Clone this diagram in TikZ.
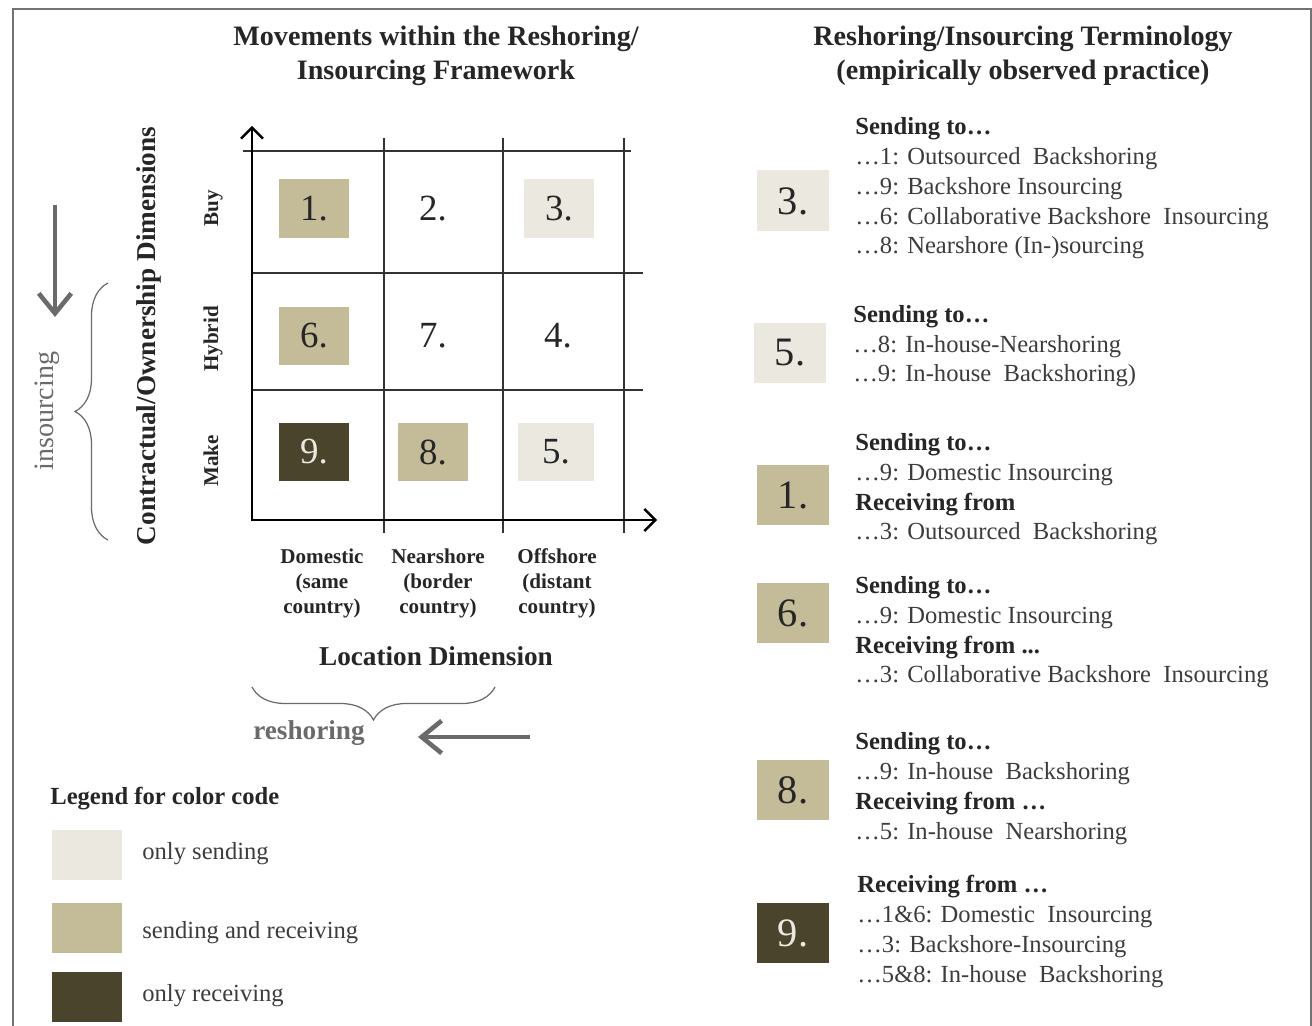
\documentclass[tikz,border=0pt]{standalone}
\usepackage{fontspec}
\setmainfont{Liberation Serif}
\usetikzlibrary{arrows.meta,positioning,decorations.pathreplacing}
\definecolor{onlysend}{HTML}{EAE8DF}
\definecolor{sendrec}{HTML}{C4BC98}
\definecolor{onlyrec}{HTML}{4A442D}
\definecolor{inktext}{HTML}{262626}
\definecolor{softtext}{HTML}{3C3C3C}
\definecolor{movegray}{HTML}{6A6A6A}
\newcommand{\termhead}[1]{\textcolor{inktext}{\bfseries #1}}
\tikzset{
  framed/.style={draw=black!55,line width=1.3pt},
  cell/.style={minimum width=1.42cm,minimum height=1.18cm,inner sep=0pt,font=\fontsize{21}{21}\selectfont,text=inktext},
  tagbox/.style={cell,minimum width=1.44cm,minimum height=1.22cm,font=\fontsize{23}{23}\selectfont},
  headline/.style={font=\fontsize{16}{19.8}\selectfont\bfseries,align=center,text=inktext,inner sep=0pt},
  rowlab/.style={rotate=90,anchor=base,font=\fontsize{12}{14}\selectfont\bfseries,text=inktext,inner sep=0pt},
  collab/.style={anchor=base,align=center,font=\fontsize{12}{14.4}\selectfont\bfseries,text=inktext,inner sep=0pt},
  termtext/.style={anchor=base west,align=left,font=\fontsize{14}{17}\selectfont,text=softtext,inner sep=0pt},
  legendtext/.style={anchor=base west,font=\fontsize{14}{17}\selectfont,text=softtext,inner sep=0pt},
  swatch/.style={minimum width=1.42cm,minimum height=1.0cm,inner sep=0pt},
  movearrow/.style={draw=movegray,line width=2.6pt,-{Straight Barb[length=4mm,width=6.5mm]}},
  gridline/.style={draw=black!80,line width=0.6pt},
  axis/.style={draw=black,line width=1.4pt,{Straight Barb[length=2.2mm,width=4.4mm]}-{Straight Barb[length=2.2mm,width=4.4mm]}},
  bracket/.style={draw=movegray,line width=0.7pt,decorate,decoration={brace,amplitude=0.66cm}}
}
\begin{document}
\begin{tikzpicture}[x=0.02cm,y=-0.02cm]
\useasboundingbox (0,0) rectangle (1312,1026);
% frame
\draw[framed] (13,1026) -- (13,9) -- (1311,9) -- (1311,1026);
% (multi-line nodes sit on their last baseline)
\node[headline,anchor=base] (lefttitle) at (436,80) {Movements within\ the Reshoring/\\Insourcing Framework};
\node[headline,anchor=base] (righttitle) at (1023,80) {Reshoring/Insourcing Terminology\\(empirically\ observed practice)};
% grid
\coordinate (origin) at (252,520);
\coordinate (ytip) at (252,126);
\coordinate (xtip) at (657,520);
\draw[gridline] (243,151) -- (631,151);
\draw[gridline] (252,273) -- (643,273);
\draw[gridline] (252,390) -- (643,390);
\foreach \x in {384,503,624} \draw[gridline] (\x,138) -- (\x,533);
\draw[axis] (ytip) -- (origin) -- (xtip);
%
\node[cell,fill=sendrec] (c1) at (314,209) {1.};
\node[cell] (c2) at (433,209) {2.};
\node[cell,fill=onlysend] (c3) at (559,209) {3.};
\node[cell,fill=sendrec] (c6) at (314,336) {6.};
\node[cell] (c7) at (433,336) {7.};
\node[cell] (c4) at (558,336) {4.};
\node[cell,fill=onlyrec,text=onlysend] (c9) at (314,452) {9.};
\node[cell,fill=sendrec] (c8) at (433,452) {8.};
\node[cell,fill=onlysend,minimum width=1.54cm] (c5) at (556,452) {5.};
%
\node[rowlab] (buy) at (218,208) {Buy};
\node[rowlab] (hybrid) at (218,339) {Hybrid};
\node[rowlab] (make) at (218,461) {Make};
\node[rowlab,font=\fontsize{15.5}{18}\selectfont\bfseries] (ownership) at (155,336) {Contractual/Ownership Dimensions};
\node[rowlab,font=\fontsize{16}{18}\selectfont,text=movegray] (insourcing) at (53,411) {insourcing};
\draw[bracket] (108,540) -- (108,283);
\coordinate (insA) at (55,205);
\coordinate (insB) at (55,317);
\draw[movearrow] (insA) -- (insB);
%
\node[collab] (domestic) at (322,614) {Domestic\\(same\\country)};
\node[collab] (nearshore) at (438,614) {Nearshore\\(border\\country)};
\node[collab] (offshore) at (557,614) {Offshore\\(distant\\country)};
\node[anchor=base,font=\fontsize{15.5}{18}\selectfont\bfseries,text=inktext,inner sep=0pt] (location) at (436,666) {Location Dimension};
\draw[bracket] (495,687) -- (252,687);
\node[anchor=base,font=\fontsize{15.5}{18}\selectfont\bfseries,text=movegray,inner sep=0pt] (reshoring) at (309,740) {reshoring};
\coordinate (resA) at (530,737);
\coordinate (resB) at (418,737);
\draw[movearrow] (resA) -- (resB);
% legend
\node[anchor=base west,font=\fontsize{14}{17}\selectfont\bfseries,text=inktext,inner sep=0pt] (legendtitle) at (50,805) {Legend for color code};
\node[swatch,fill=onlysend] (sw1) at (87,855) {};
\node[swatch,fill=sendrec] (sw2) at (87,928) {};
\node[swatch,fill=onlyrec] (sw3) at (87,997) {};
\node[legendtext] (lt1) at (142,859) {only sending};
\node[legendtext] (lt2) at (142,938) {sending and receiving};
\node[legendtext] (lt3) at (142,1001) {only receiving};
% terminology
\node[tagbox,fill=onlysend] (r3) at (793,201) {3.};
\node[termtext] (t3) at (855,254) {\termhead{Sending to…}\\…1: Outsourced\ \ Backshoring\\…9: Backshore Insourcing\\…6: Collaborative Backshore\ \ Insourcing\\…8: Nearshore (In-)sourcing};
\node[tagbox,fill=onlysend] (r5) at (790,353) {5.};
\node[termtext] (t5) at (853,382) {\termhead{Sending to…}\\…8: In-house-Nearshoring\\…9: In-house\ \ Backshoring)};
\node[tagbox,fill=sendrec] (r1) at (793,495) {1.};
\node[termtext] (t1) at (855,540) {\termhead{Sending to…}\\…9: Domestic Insourcing\\\termhead{Receiving from}\\…3: Outsourced\ \ Backshoring};
\node[tagbox,fill=sendrec] (r6) at (793,613) {6.};
\node[termtext] (t6) at (855,683) {\termhead{Sending to…}\\…9: Domestic Insourcing\\\termhead{Receiving from ...}\\…3: Collaborative Backshore\ \ Insourcing};
\node[tagbox,fill=sendrec] (r8) at (793,790) {8.};
\node[termtext] (t8) at (855,839) {\termhead{Sending to…}\\…9: In-house\ \ Backshoring\\\termhead{Receiving from …}\\…5: In-house\ \ Nearshoring};
\node[tagbox,fill=onlyrec,text=onlysend] (r9) at (793,933) {9.};
\node[termtext] (t9) at (857,982) {\termhead{Receiving from …}\\…1\&6: Domestic\ \ Insourcing\\…3: Backshore-Insourcing\\…5\&8: In-house\ \ Backshoring};
\end{tikzpicture}
\end{document}
